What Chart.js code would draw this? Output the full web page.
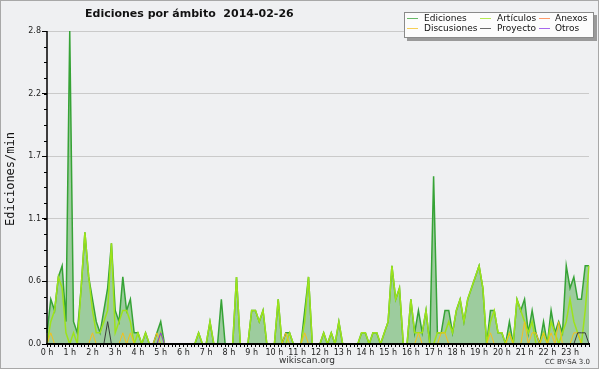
<!DOCTYPE html>
<html>
<head>
<meta charset="utf-8">
<script src="https://cdn.jsdelivr.net/npm/chart.js@4.4.1/dist/chart.umd.min.js"></script>
<style>
html,body{margin:0;padding:0;background:#fff;}
canvas{display:block;}
</style>
</head>
<body>
<canvas id="grafico" width="600" height="370"></canvas>
<script>
// Ediciones por ámbito, 2014-02-26, intervalos de 10 minutos (ediciones/min)
const etiquetasHora = ['0 h','1 h','2 h','3 h','4 h','5 h','6 h','7 h','8 h','9 h','10 h','11 h',
  '12 h','13 h','14 h','15 h','16 h','17 h','18 h','19 h','20 h','21 h','22 h','23 h'];
const horas = ['00','01','02','03','04','05','06','07','08','09','10','11',
  '12','13','14','15','16','17','18','19','20','21','22','23'];
const minutos = ['00','10','20','30','40','50'];
const intervalos = horas.flatMap(h => minutos.map(m => h + ':' + m));

const yMax = 2.8;
const yTicks = [0, 0.56, 1.12, 1.68, 2.24, 2.8];
const yTickLabels = ['0.0', '0.6', '1.1', '1.7', '2.2', '2.8'];
const yMinor = 0.14;

// una fila = 2 horas
const ediciones = [
  0.1,0.4,0.3,0.6,0.7,0.2, 2.8,0.2,0.1,0.5,1.0,0.6,
  0.4,0.2,0.1,0.3,0.5,0.9, 0.3,0.2,0.6,0.3,0.4,0.1,
  0.1,0,0.1,0,0,0.1,       0.2,0,0,0,0,0,
  0,0,0,0,0.1,0,           0,0.2,0,0,0.4,0,
  0,0,0.6,0,0,0,           0.3,0.3,0.2,0.3,0,0,
  0,0.4,0,0.1,0.1,0,       0,0,0.3,0.6,0,0,
  0,0.1,0,0.1,0,0.2,       0,0,0,0,0,0.1,
  0.1,0,0.1,0.1,0,0.1,     0.2,0.7,0.4,0.5,0,0,
  0.4,0.1,0.3,0.1,0.3,0,   1.5,0.1,0.1,0.3,0.3,0.1,
  0.3,0.4,0.2,0.4,0.5,0.6, 0.7,0.5,0,0.3,0.3,0.1,
  0.1,0,0.2,0,0.4,0.3,     0.4,0.1,0.3,0.1,0,0.2,
  0,0.3,0.1,0.2,0.1,0.7,   0.5,0.6,0.4,0.4,0.7,0.7
];
const articulos = [
  0,0.2,0.3,0.6,0.5,0.1,   0,0.1,0,0.5,1.0,0.6,
  0.3,0.1,0.1,0.2,0.3,0.9, 0.1,0.2,0.3,0.3,0.2,0,
  0.1,0,0.1,0,0,0,         0.1,0,0,0,0,0,
  0,0,0,0,0.1,0,           0,0.2,0,0,0,0,
  0,0,0.6,0,0,0,           0.3,0.3,0.2,0.3,0,0,
  0,0.4,0,0,0.1,0,         0,0,0.2,0.6,0,0,
  0,0.1,0,0.1,0,0.2,       0,0,0,0,0,0.1,
  0.1,0,0.1,0.1,0,0.1,     0.2,0.7,0.4,0.5,0,0,
  0.4,0.1,0.1,0.1,0.3,0,   0,0.1,0.1,0.1,0.2,0.1,
  0.3,0.4,0.2,0.4,0.5,0.6, 0.7,0.5,0,0.2,0.3,0.1,
  0.1,0,0.1,0,0.4,0.3,     0.2,0.1,0.2,0,0,0.1,
  0,0.2,0.1,0,0.1,0.2,     0.4,0.2,0.1,0,0.3,0.7
];
const anexos = [
  0,0,0,0,0,0, 0,0,0,0,0,0, 0,0,0,0,0,0, 0,0,0,0,0,0,
  0,0,0,0,0,0, 0,0,0,0,0,0, 0,0,0,0,0,0, 0,0,0,0,0,0,
  0,0,0,0,0,0, 0,0,0,0,0,0, 0,0,0,0,0,0, 0,0,0,0,0,0,
  0,0,0,0,0,0, 0,0,0,0,0,0, 0,0,0,0,0,0, 0,0,0,0,0,0,
  0,0,0,0,0,0, 0,0,0,0,0,0, 0,0,0,0,0,0, 0,0,0,0,0,0,
  0,0,0,0,0,0, 0,0,0,0,0,0, 0,0,0,0,0,0, 0,0,0,0,0,0
];
const discusiones = [
  0,0.1,0,0,0,0,   0,0,0,0,0,0,
  0.1,0,0,0,0,0,   0,0,0.1,0,0.1,0,
  0,0,0,0,0,0.1,   0,0,0,0,0,0,
  0,0,0,0,0,0,     0,0,0,0,0,0,
  0,0,0,0,0,0,     0,0,0,0,0,0,
  0,0,0,0.1,0,0,   0,0,0.1,0,0,0,
  0,0,0,0,0,0,     0,0,0,0,0,0,
  0,0,0,0,0,0,     0,0,0,0,0,0,
  0,0,0.1,0,0,0,   0,0,0.1,0.1,0,0,
  0,0,0,0,0,0,     0,0,0,0.1,0,0,
  0,0,0.1,0,0,0,   0.2,0,0.1,0.1,0,0.1,
  0,0.1,0,0.2,0,0, 0,0.1,0.1,0,0,0
];
const proyecto = [
  0,0,0,0,0,0, 0,0,0,0,0,0,   0,0,0,0,0.2,0, 0,0,0,0,0,0,
  0,0,0,0,0,0, 0,0,0,0,0,0,   0,0,0,0,0,0,   0,0,0,0,0,0,
  0,0,0,0,0,0, 0,0,0,0,0,0,   0,0,0,0,0,0,   0,0,0,0,0,0,
  0,0,0,0,0,0, 0,0,0,0,0,0,   0,0,0,0,0,0,   0,0,0,0,0,0,
  0,0,0,0,0,0, 0,0,0,0,0,0,   0,0,0,0,0,0,   0,0,0,0,0,0,
  0,0,0,0,0,0, 0,0,0,0,0,0,   0,0,0,0,0,0,   0,0,0.1,0.1,0.1,0
];
const otros = [
  0,0,0,0,0,0, 0,0,0,0,0,0,   0,0,0,0,0,0, 0,0,0,0,0,0,
  0,0,0,0,0,0, 0.1,0,0,0,0,0, 0,0,0,0,0,0, 0,0,0,0,0,0,
  0,0,0,0,0,0, 0,0,0,0,0,0,   0,0,0,0,0,0, 0,0,0,0,0,0,
  0,0,0,0,0,0, 0,0,0,0,0,0,   0,0,0,0,0,0, 0,0,0,0,0,0,
  0,0,0,0,0,0, 0,0,0,0,0,0,   0,0,0,0,0,0, 0,0,0,0,0,0,
  0,0,0,0,0,0, 0,0,0,0,0,0,   0,0,0,0,0,0, 0,0,0,0,0,0
];

Chart.defaults.font.family = "'DejaVu Sans', sans-serif";

const fondo = {
  id: 'fondo',
  beforeDraw(chart) {
    const c = chart.ctx;
    c.save();
    c.fillStyle = '#ffffff';
    c.fillRect(0, 0, chart.width, chart.height);
    c.fillStyle = '#eff0f2';
    c.fillRect(0, 0, 599, 369);
    c.strokeStyle = '#a8a8a8';
    c.lineWidth = 1;
    c.strokeRect(0.5, 0.5, 598, 368);
    c.restore();
  }
};

// ejes negros por encima de las series (tapan las líneas en cero)
const ejes = {
  id: 'ejes',
  afterDatasetsDraw(chart) {
    const c = chart.ctx, a = chart.chartArea, y = chart.scales.y;
    c.save();
    c.strokeStyle = '#000';
    c.lineWidth = 2;
    c.beginPath(); c.moveTo(a.left - 1, a.bottom); c.lineTo(a.right + 1, a.bottom); c.stroke();
    c.lineWidth = 1.5;
    c.beginPath(); c.moveTo(a.left, a.top); c.lineTo(a.left, a.bottom); c.stroke();
    c.lineWidth = 1;
    for (let k = 0; k * yMinor <= yMax + 1e-9; k++) {
      const py = Math.round(y.getPixelForValue(k * yMinor)) + 0.5;
      c.beginPath(); c.moveTo(a.left - 3, py); c.lineTo(a.left, py); c.stroke();
    }
    c.restore();
  }
};

const textos = {
  id: 'textos',
  afterDraw(chart) {
    const c = chart.ctx;
    c.save();
    c.fillStyle = '#111';
    c.textBaseline = 'middle';
    c.textAlign = 'left';
    c.font = "bold 11px 'DejaVu Sans'";
    c.fillText('Ediciones por ámbito  2014-02-26', 85, 14);

    c.save();
    c.translate(11, 179);
    c.rotate(-Math.PI / 2);
    c.textAlign = 'center';
    c.font = "12px 'DejaVu Sans Mono'";
    c.fillText('Ediciones/min', 0, 0);
    c.restore();

    c.fillStyle = '#333';
    c.textAlign = 'center';
    c.font = "9px 'DejaVu Sans'";
    c.fillText('wikiscan.org', 307, 361);
    c.textAlign = 'right';
    c.font = "7px 'DejaVu Sans'";
    c.fillText('CC BY-SA 3.0', 590, 362);

    // leyenda
    c.fillStyle = '#9a9a9a';
    c.fillRect(407, 15, 190, 26);
    c.fillStyle = '#fcfcfc';
    c.fillRect(404, 12, 190, 26);
    c.strokeStyle = '#8a8a8a';
    c.lineWidth = 1;
    c.strokeRect(404.5, 12.5, 189, 25);
    const colX = [407, 480, 539];
    const txtX = [424, 497, 555];
    c.font = "9px 'DejaVu Sans'";
    c.textAlign = 'left';
    chart.data.datasets.forEach((ds, i) => {
      const col = i % 3, row = Math.floor(i / 3);
      const yy = 19 + row * 10;
      c.globalAlpha = 0.75;
      c.strokeStyle = ds.borderColor;
      c.beginPath(); c.moveTo(colX[col], yy - 0.5); c.lineTo(colX[col] + 11, yy - 0.5); c.stroke();
      c.globalAlpha = 1;
      c.fillStyle = '#111';
      c.fillText(ds.label, txtX[col], yy);
    });
    c.restore();
  }
};

new Chart(document.getElementById('grafico'), {
  type: 'line',
  data: {
    labels: intervalos,
    datasets: [
      { label: 'Ediciones', data: ediciones, borderColor: '#36a336', backgroundColor: 'rgba(90,175,90,0.55)',
        fill: 'origin', borderWidth: 1.5, order: 6 },
      { label: 'Artículos', data: articulos, borderColor: '#9de31a', fill: false, borderWidth: 1.5, order: 5 },
      { label: 'Anexos', data: anexos, borderColor: '#ff7a3a', fill: false, borderWidth: 1, order: 4 },
      { label: 'Discusiones', data: discusiones, borderColor: '#f4c01c', fill: false, borderWidth: 1, order: 3 },
      { label: 'Proyecto', data: proyecto, borderColor: '#3a3a3a', fill: false, borderWidth: 1, order: 2 },
      { label: 'Otros', data: otros, borderColor: '#8a35e8', fill: false, borderWidth: 1, order: 1 }
    ]
  },
  options: {
    responsive: false,
    animation: false,
    devicePixelRatio: 1,
    layout: { padding: { left: 0, right: 11, top: 31, bottom: 0 } },
    elements: { point: { radius: 0 }, line: { tension: 0 } },
    plugins: { legend: { display: false }, title: { display: false }, tooltip: { enabled: false } },
    scales: {
      x: {
        type: 'category',
        offset: false,
        border: { display: false },
        grid: { drawOnChartArea: false, tickLength: 3, tickColor: '#000', tickWidth: 1 },
        ticks: {
          autoSkip: false, maxRotation: 0, padding: 1, color: '#222', font: { size: 8 },
          callback: (v, i) => (i % 6 === 0 ? etiquetasHora[i / 6] : '')
        },
        afterFit: s => { s.height = 26; }
      },
      y: {
        min: 0,
        max: yMax,
        border: { display: false },
        afterBuildTicks: s => { s.ticks = yTicks.map(v => ({ value: v })); },
        grid: { color: '#cacaca', tickLength: 5, tickColor: '#000' },
        ticks: { padding: 1, color: '#222', font: { size: 8 }, callback: (v, i) => yTickLabels[i] },
        afterFit: s => { s.width = 47; }
      }
    }
  },
  plugins: [fondo, ejes, textos]
});
</script>
</body>
</html>
